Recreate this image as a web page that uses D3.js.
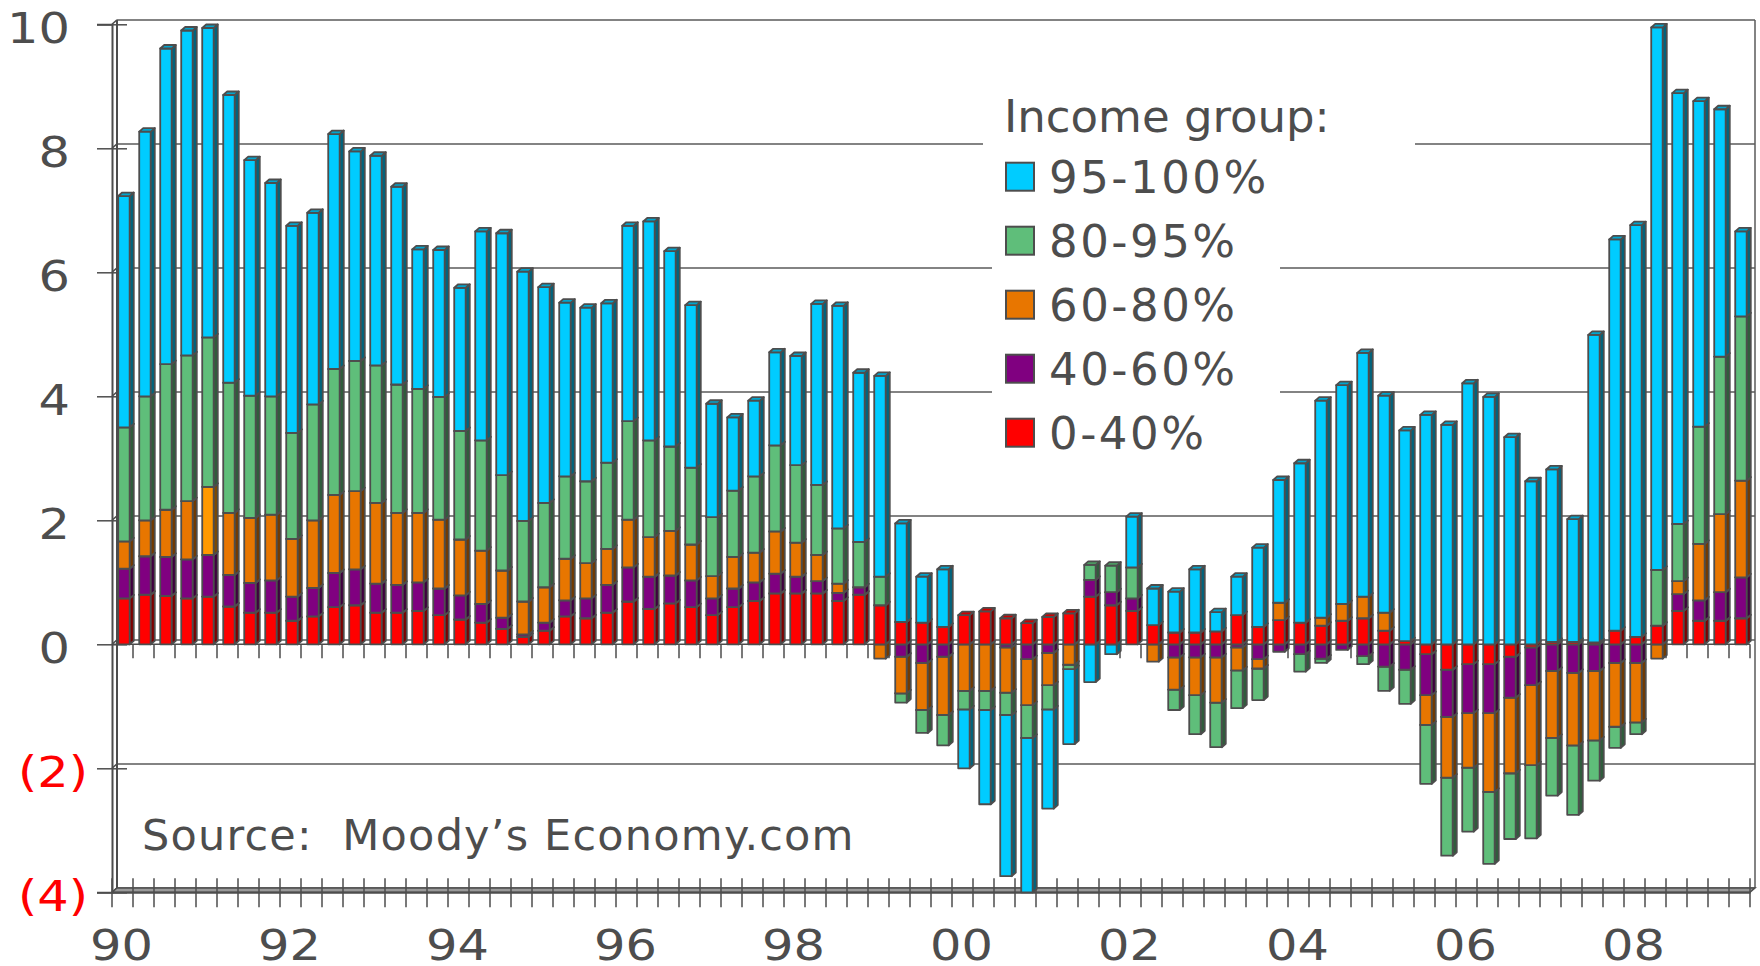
<!DOCTYPE html>
<html>
<head>
<meta charset="utf-8">
<script src="https://cdn.jsdelivr.net/npm/d3@7/dist/d3.min.js"></script>
<style>
  html, body { margin: 0; padding: 0; background: #fff; }
  svg { display: block; font-family: 'DejaVu Sans', Verdana, sans-serif; }
</style>
</head>
<body>
<svg id="chart" width="1760" height="966"></svg>
<script>
// quarterly, 1990Q1 .. 2009Q2
const years = ['90','91','92','93','94','95','96','97','98','99','00','01','02','03','04','05','06','07','08','09'];
const quarters = years.flatMap(yy => ['Q1','Q2','Q3','Q4'].map(q => yy + q)).slice(0, 78);

const yearLabels = ['90','92','94','96','98','00','02','04','06','08'];
const yTicks = [-4, -2, 0, 2, 4, 6, 8, 10];

const groups = ['0-40%', '40-60%', '60-80%', '80-95%', '95-100%'];
const groupColors = ['#ff0000', '#800080', '#e87600', '#5fbe7a', '#00ccff'];

const g0_40 = [
  0.74,0.80,0.78,0.74,0.77,0.61,0.51,0.51,0.38,0.45,0.60,0.63,0.51,0.51,0.54,0.47,
  0.40,0.35,0.25,0.12,0.22,0.45,0.42,0.51,0.69,0.57,0.66,0.60,0.47,0.60,0.70,0.82,
  0.82,0.82,0.70,0.80,0.63,0.36,0.35,0.28,0.47,0.53,0.42,0.34,0.44,0.50,0.77,0.63,
  0.54,0.31,0.19,0.19,0.21,0.47,0.28,0.39,0.35,0.30,0.38,0.42,0.22,0.05,-0.16,-0.41,
  -0.32,-0.32,-0.20,-0.05,0.04,0.04,0.03,0.22,0.12,0.30,0.54,0.38,0.38,0.42
];
const g40_60 = [
  0.48,0.62,0.63,0.63,0.67,0.51,0.48,0.52,0.39,0.46,0.55,0.58,0.47,0.45,0.46,0.43,
  0.39,0.30,0.18,0.04,0.13,0.26,0.32,0.45,0.55,0.52,0.45,0.43,0.27,0.30,0.30,0.32,
  0.27,0.20,0.13,0.12,0,-0.20,-0.30,-0.20,0,0,-0.05,-0.24,-0.14,0,0.27,0.21,
  0.20,0,-0.21,-0.21,-0.21,-0.05,-0.24,-0.12,-0.16,-0.23,-0.09,-0.19,-0.36,-0.41,-0.66,-0.76,
  -0.79,-0.79,-0.66,-0.61,-0.43,-0.46,-0.43,-0.30,-0.30,0,0.27,0.33,0.46,0.66
];
const g60_80 = [
  0.44,0.58,0.76,0.94,1.10,1.00,1.05,1.06,0.93,1.09,1.26,1.26,1.30,1.16,1.12,1.11,
  0.90,0.86,0.76,0.53,0.57,0.67,0.57,0.58,0.77,0.64,0.72,0.58,0.36,0.51,0.48,0.68,
  0.55,0.42,0.15,0,-0.23,-0.59,-0.76,-0.94,-0.75,-0.75,-0.73,-0.74,-0.52,-0.33,0,0,
  0,-0.28,-0.52,-0.61,-0.73,-0.37,-0.15,0.28,0,0.13,0.27,0.35,0.29,0,-0.48,-0.98,
  -0.88,-1.27,-1.22,-1.29,-1.08,-1.17,-1.12,-1.03,-0.96,-0.23,0.21,0.91,1.26,1.56
];
const g80_95 = [
  1.84,2.00,2.35,2.35,2.41,2.10,1.97,1.91,1.71,1.87,2.03,2.10,2.22,2.07,2.00,1.98,
  1.75,1.78,1.54,1.30,1.36,1.33,1.32,1.39,1.59,1.56,1.36,1.24,0.95,1.07,1.23,1.39,
  1.25,1.13,0.89,0.73,0.46,-0.15,-0.37,-0.49,-0.30,-0.31,-0.36,-0.53,-0.39,-0.07,0.24,0.43,
  0.50,0,-0.33,-0.63,-0.72,-0.61,-0.51,0,-0.28,-0.07,0,-0.13,-0.39,-0.55,-0.95,-1.26,
  -1.03,-1.16,-1.06,-1.18,-0.93,-1.12,-0.65,-0.34,-0.19,0.90,0.92,1.89,2.54,2.65
];
const g95_100 = [
  3.73,4.27,5.09,5.24,4.99,4.64,3.80,3.44,3.34,3.09,3.79,3.38,3.38,3.19,2.25,2.37,
  2.31,3.37,3.90,4.02,3.48,2.80,2.80,2.57,3.15,3.53,3.15,2.62,1.83,1.18,1.22,1.50,
  1.76,2.92,3.59,2.73,3.24,1.59,0.74,0.93,-0.95,-1.52,-2.60,-2.49,-1.60,-1.21,-0.61,-0.16,
  0.82,0.59,0.66,1.02,0.31,0.62,1.28,1.98,2.57,3.50,3.53,3.93,3.50,3.40,3.70,3.54,
  4.21,3.99,3.34,2.63,2.78,1.98,4.96,6.31,6.64,8.75,6.95,5.25,3.99,1.37
];

// one point drawn in a lighter orange in the original
const highlight = { index: 4, key: '60-80%', color: '#ff9900' };

const ink = '#4d4d4d';
const font = "'DejaVu Sans', Verdana, sans-serif";
const wall = { dx: 5, dy: -4.4 };
const box = { dx: 4, dy: -3.5 };
const x0 = 112, x1 = 1750;
const widen = 1.15;   // the original digits are a bit wider than DejaVu's

const svg = d3.select('#chart');

const x = d3.scaleBand()
  .domain(quarters)
  .range([x0, x1])
  .paddingInner(0.45)
  .paddingOuter(0.225);

const y = d3.scaleLinear()
  .domain([-4, 10])
  .range([892.3, 24.3]);

const step = x.step();
const edge = i => x0 + i * step;

const rows = quarters.map((q, i) => {
  const row = { q: q, i: i };
  row[groups[0]] = g0_40[i];
  row[groups[1]] = g40_60[i];
  row[groups[2]] = g60_80[i];
  row[groups[3]] = g80_95[i];
  row[groups[4]] = g95_100[i];
  return row;
});

const stacked = d3.stack()
  .keys(groups)
  .offset(d3.stackOffsetDiverging)(rows);

const color = d3.scaleOrdinal().domain(groups).range(groupColors);

// ---- back wall gridlines
const back = svg.append('g');
back.selectAll('line.grid')
  .data(yTicks)
  .join('line')
  .attr('class', 'grid')
  .attr('x1', x0 + wall.dx).attr('x2', x1 + wall.dx)
  .attr('y1', d => y(d) + wall.dy).attr('y2', d => y(d) + wall.dy)
  .attr('stroke', '#5a5a5a').attr('stroke-width', 1.5);

// little connectors from front ticks to the wall
back.selectAll('line.conn')
  .data(yTicks)
  .join('line')
  .attr('class', 'conn')
  .attr('x1', x0).attr('x2', x0 + wall.dx)
  .attr('y1', d => y(d)).attr('y2', d => y(d) + wall.dy)
  .attr('stroke', ink).attr('stroke-width', 1.5);

// right wall edge
back.append('line')
  .attr('x1', x1 + wall.dx).attr('x2', x1 + wall.dx)
  .attr('y1', y(10) + wall.dy).attr('y2', y(-4) + wall.dy)
  .attr('stroke', '#5a5a5a').attr('stroke-width', 1.5);

// left wall (double line)
back.append('line')
  .attr('x1', x0 + wall.dx).attr('x2', x0 + wall.dx)
  .attr('y1', y(10) + wall.dy).attr('y2', y(-4) + wall.dy)
  .attr('stroke', ink).attr('stroke-width', 2);

// zero plane front line and ticks hanging below it
back.append('line')
  .attr('x1', x0).attr('x2', x1)
  .attr('y1', y(0)).attr('y2', y(0))
  .attr('stroke', ink).attr('stroke-width', 1.5);

back.selectAll('line.ztick')
  .data(d3.range(1, quarters.length + 1))
  .join('line')
  .attr('class', 'ztick')
  .attr('x1', d => edge(d)).attr('x2', d => edge(d))
  .attr('y1', y(0)).attr('y2', y(0) + 14)
  .attr('stroke', ink).attr('stroke-width', 1.5);

// floor
back.append('path')
  .attr('d', `M${x0},${y(-4)} L${x0 + wall.dx},${y(-4) + wall.dy} L${x1 + wall.dx},${y(-4) + wall.dy} L${x1},${y(-4)} Z`)
  .attr('fill', '#9a9a9a')
  .attr('stroke', ink).attr('stroke-width', 1.5);

// bottom ticks crossing the floor
back.selectAll('line.btick')
  .data(d3.range(0, quarters.length + 1))
  .join('line')
  .attr('class', 'btick')
  .attr('x1', d => edge(d)).attr('x2', d => edge(d))
  .attr('y1', y(-4) - 14).attr('y2', y(-4) + 15)
  .attr('stroke', ink).attr('stroke-width', 1.5);

// ---- legend background boxes (they hide the gridlines)
svg.append('rect')
  .attr('x', 983).attr('y', 84).attr('width', 432).attr('height', 66)
  .attr('fill', '#fff');
svg.append('rect')
  .attr('x', 992).attr('y', 150).attr('width', 288).attr('height', 318)
  .attr('fill', '#fff');

// ---- y axis ( #,##0_);(#,##0) style: positives keep room for the ')' )
const yAxis = svg.append('g')
  .attr('transform', `translate(${x0},0)`)
  .call(d3.axisLeft(y)
    .tickValues(yTicks)
    .tickSize(15)
    .tickFormat(d => d < 0 ? `(${-d})` : d));

yAxis.select('.domain')
  .attr('stroke', ink).attr('stroke-width', 2);
yAxis.selectAll('.tick line')
  .attr('x1', -15).attr('x2', 15)
  .attr('stroke', ink).attr('stroke-width', 1.5);
yAxis.selectAll('.tick text')
  .attr('transform', `scale(${widen},1)`)
  .attr('x', d => (d < 0 ? -24 : -42) / widen)
  .attr('dy', 18)
  .style('font-size', '43px')
  .style('font-family', font)
  .attr('fill', d => d < 0 ? '#ff0000' : ink);

// ---- x axis labels
const xAxis = svg.append('g')
  .attr('transform', `translate(0,${y(-4)})`)
  .call(d3.axisBottom(x)
    .tickValues(yearLabels.map(v => v + 'Q1'))
    .tickSize(0)
    .tickFormat(d => d.slice(0, 2)));

xAxis.select('.domain')
  .attr('stroke', ink).attr('stroke-width', 2);
xAxis.selectAll('.tick text')
  .attr('transform', `scale(${widen},1)`)
  .attr('y', 0)
  .attr('dy', 68)
  .attr('dx', -1 / widen)
  .style('font-size', '43px')
  .style('font-family', font)
  .attr('fill', ink);

// ---- 3D stacked columns
const segments = [];
stacked.forEach(s => {
  s.forEach((d, i) => {
    if (d[0] === d[1]) return;
    segments.push({
      key: s.key,
      i: i,
      lo: Math.min(d[0], d[1]),
      hi: Math.max(d[0], d[1])
    });
  });
});
segments.sort((a, b) => a.i - b.i || a.lo - b.lo);

const fillOf = d => (d.i === highlight.index && d.key === highlight.key) ? highlight.color : color(d.key);

const bars = svg.append('g')
  .attr('stroke', ink)
  .attr('stroke-width', 1.8)
  .attr('stroke-linejoin', 'round');

const seg = bars.selectAll('g')
  .data(segments)
  .join('g');

seg.append('rect')
  .attr('x', d => x(quarters[d.i]) + 1.5)
  .attr('y', d => y(d.hi))
  .attr('width', x.bandwidth())
  .attr('height', d => y(d.lo) - y(d.hi))
  .attr('fill', fillOf);

seg.append('path')
  .attr('d', d => {
    const r = x(quarters[d.i]) + 1.5 + x.bandwidth();
    const t = y(d.hi), b = y(d.lo);
    return `M${r},${t} L${r + box.dx},${t + box.dy} L${r + box.dx},${b + box.dy} L${r},${b} Z`;
  })
  .attr('fill', d => d3.color(fillOf(d)).darker(2));

seg.append('path')
  .attr('d', d => {
    const l = x(quarters[d.i]) + 1.5;
    const r = l + x.bandwidth();
    const t = y(d.hi);
    return `M${l},${t} L${l + box.dx},${t + box.dy} L${r + box.dx},${t + box.dy} L${r},${t} Z`;
  })
  .attr('fill', d => d3.color(fillOf(d)).darker(0.6));

// ---- legend
const legend = svg.append('g')
  .style('font-family', font)
  .attr('fill', ink);

legend.append('text')
  .attr('x', 1004)
  .attr('y', 132)
  .style('font-size', '45px')
  .text('Income group:');

const legendOrder = groups.slice().reverse();
const item = legend.selectAll('g.item')
  .data(legendOrder)
  .join('g')
  .attr('class', 'item')
  .attr('transform', (d, k) => `translate(1006,${162.7 + k * 64})`);

item.append('rect')
  .attr('width', 28).attr('height', 28)
  .attr('fill', d => color(d))
  .attr('stroke', ink).attr('stroke-width', 2);

item.append('text')
  .attr('x', 43)
  .attr('y', 30.6)
  .style('font-size', '45px')
  .style('letter-spacing', '2.5px')
  .text(d => d);

// ---- source note
svg.append('text')
  .attr('x', 142)
  .attr('y', 850)
  .style('font-size', '43px')
  .style('letter-spacing', '1.2px')
  .style('white-space', 'pre')
  .attr('fill', ink)
  .text('Source:  Moody\u2019s Economy.com');
</script>
</body>
</html>
